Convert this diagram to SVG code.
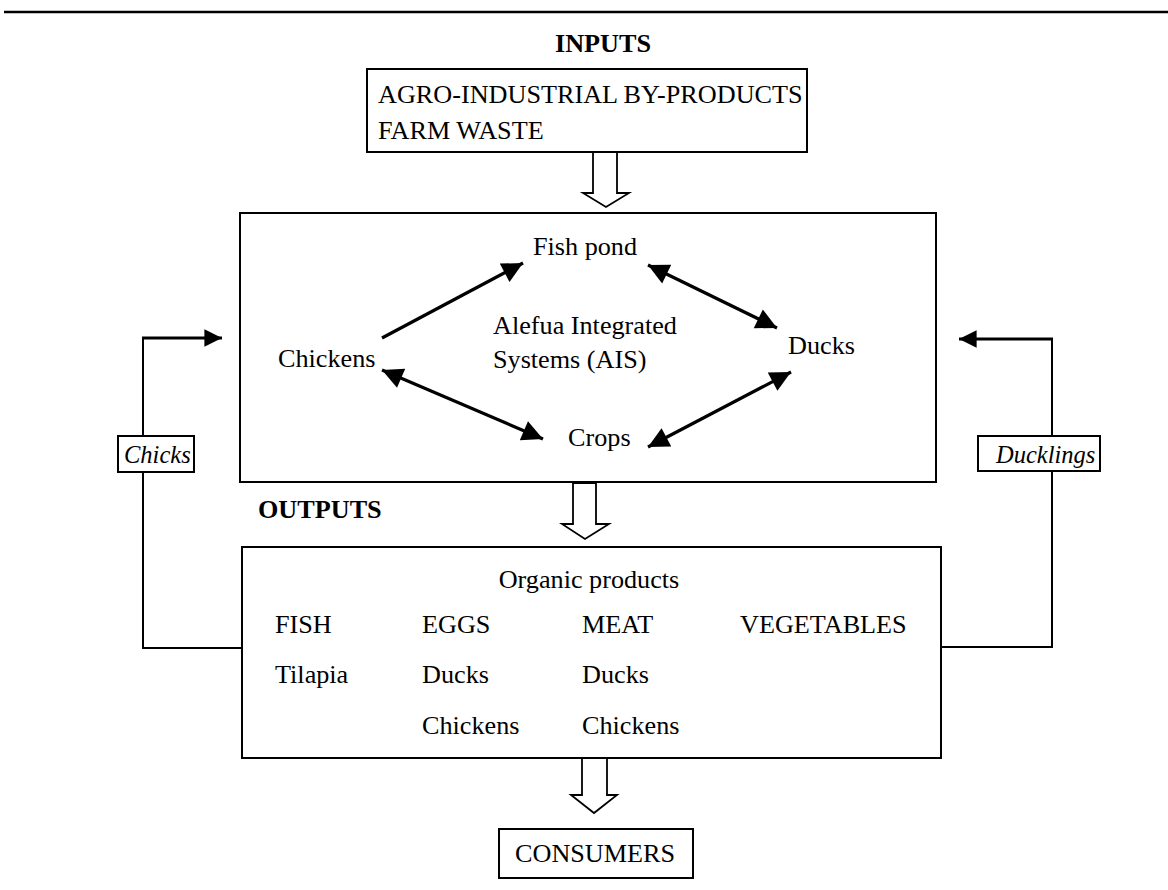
<svg xmlns="http://www.w3.org/2000/svg" width="1168" height="890" viewBox="0 0 1168 890">
<defs>
<marker id="ah" viewBox="0 0 10 10" refX="10" refY="5" markerWidth="7" markerHeight="6.5" markerUnits="strokeWidth" orient="auto-start-reverse">
<path d="M0,0 L10,5 L0,10 z" fill="#000"/>
</marker>
<marker id="ah2" viewBox="0 0 10 10" refX="10" refY="5" markerWidth="6" markerHeight="5.5" markerUnits="strokeWidth" orient="auto-start-reverse">
<path d="M0,0 L10,5 L0,10 z" fill="#000"/>
</marker>
<style>
.t{font-family:"Liberation Serif","Times New Roman",serif;font-size:26.2px;fill:#000}
.b{font-weight:bold}
.i{font-style:italic;font-size:24.5px}
.box{fill:#fff;stroke:#000;stroke-width:2}
.hollow{fill:#fff;stroke:#000;stroke-width:1.8;stroke-linejoin:miter}
.con{fill:none;stroke:#000;stroke-width:3.2}
.fb{fill:none;stroke:#000;stroke-width:2}
</style>
</defs>
<rect width="1168" height="890" fill="#fff"/>
<line x1="4" y1="12" x2="1168" y2="12" stroke="#000" stroke-width="2.5"/>

<g id="inputs-label"><text class="t b" x="603" y="52" text-anchor="middle">INPUTS</text></g>
<g id="inputs">
<rect class="box" x="367" y="69" width="440" height="83"/>
<text class="t" x="378" y="103">AGRO-INDUSTRIAL BY-PRODUCTS</text>
<text class="t" x="378" y="139">FARM WASTE</text>
</g>

<g id="ais">
<rect class="box" x="240" y="213" width="696" height="269"/>
<text class="t" x="493" y="334">Alefua Integrated</text>
<text class="t" x="493" y="368">Systems (AIS)</text>
</g>
<g id="fishpond"><text class="t" x="533" y="255">Fish pond</text></g>
<g id="chickens"><text class="t" x="278" y="367">Chickens</text></g>
<g id="ducks"><text class="t" x="788" y="354">Ducks</text></g>
<g id="crops"><text class="t" x="568" y="446">Crops</text></g>

<g id="outputs-label"><text class="t b" x="258" y="518">OUTPUTS</text></g>
<g id="outputs">
<rect class="box" x="242" y="547" width="699" height="211"/>
<text class="t" x="589" y="588" text-anchor="middle">Organic products</text>
<text class="t" x="275" y="633">FISH</text>
<text class="t" x="422" y="633">EGGS</text>
<text class="t" x="582" y="633">MEAT</text>
<text class="t" x="740" y="633">VEGETABLES</text>
<text class="t" x="275" y="683">Tilapia</text>
<text class="t" x="422" y="683">Ducks</text>
<text class="t" x="582" y="683">Ducks</text>
<text class="t" x="422" y="734">Chickens</text>
<text class="t" x="582" y="734">Chickens</text>
</g>

<g id="consumers">
<rect class="box" x="499" y="829" width="194" height="49"/>
<text class="t" x="515" y="862">CONSUMERS</text>
</g>

<g id="connectors">
<polygon class="hollow" points="593,152 617,152 617,193 629,193 606,207 583,193 593,193"/>
<polygon class="hollow" points="573,483 596,483 596,524 609,524 585,539 562,524 573,524"/>
<polygon class="hollow" points="582,758 607,758 607,795 617,795 594,813 571,795 582,795"/>

<line class="con" x1="382" y1="338" x2="523" y2="263" marker-end="url(#ah)"/>
<line class="con" x1="648" y1="265" x2="777" y2="328" marker-start="url(#ah)" marker-end="url(#ah)"/>
<line class="con" x1="382" y1="370" x2="543" y2="439" marker-start="url(#ah)" marker-end="url(#ah)"/>
<line class="con" x1="648" y1="447" x2="791" y2="372" marker-start="url(#ah)" marker-end="url(#ah)"/>

<polyline class="fb" points="242,648 143,648 143,338"/>
<line class="con" x1="142" y1="338" x2="222" y2="338" marker-end="url(#ah2)"/>
<polyline class="fb" points="941,647 1052,647 1052,339"/>
<line class="con" x1="1053" y1="339" x2="959" y2="339" marker-end="url(#ah2)"/>
</g>

<g id="chicks">
<rect class="box" x="118" y="436" width="76" height="36"/>
<text class="t i" x="124" y="463">Chicks</text>
</g>
<g id="ducklings">
<rect class="box" x="978" y="436" width="122" height="35"/>
<text class="t i" x="996" y="463">Ducklings</text>
</g>
</svg>
